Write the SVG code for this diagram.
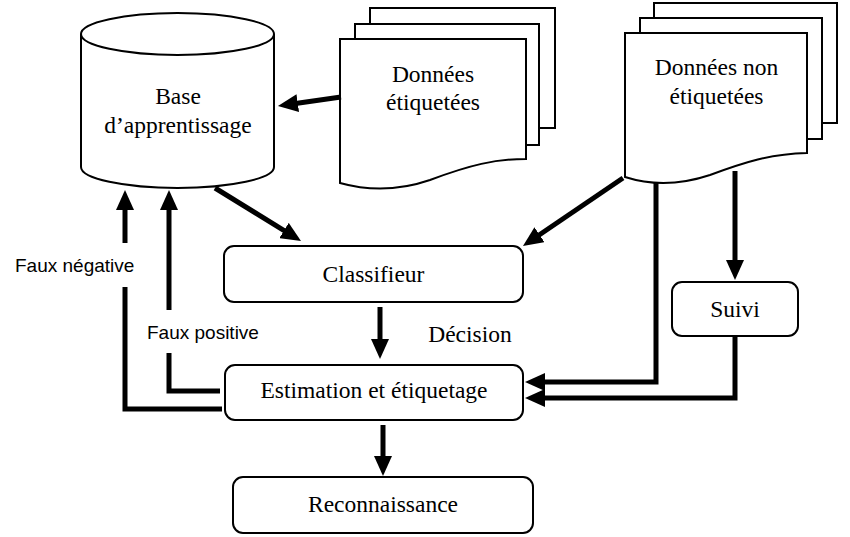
<svg xmlns="http://www.w3.org/2000/svg" width="850" height="537" viewBox="0 0 850 537">
<style>
.shape{fill:#fff;stroke:#000;stroke-width:2}
.serif{font-family:"Liberation Serif","Times New Roman",serif;font-size:23.5px;fill:#000;text-anchor:middle}
.sans{font-family:"Liberation Sans",Arial,sans-serif;font-size:19px;fill:#000}
.conn{fill:none;stroke:#000;stroke-width:5}
</style>
<defs>
<marker id="ah" markerUnits="userSpaceOnUse" markerWidth="20" markerHeight="18" refX="4" refY="9" orient="auto">
<path d="M0,0 L20,9 L0,18 z" fill="#000"/>
</marker>
</defs>
<rect width="850" height="537" fill="#fff"/>

<g id="base">
<path class="shape" d="M81,34 V167 A96.5,21 0 0 0 274,167 V34"/>
<ellipse class="shape" cx="177.5" cy="34" rx="96.5" ry="21"/>
<text class="serif" x="178" y="104">Base</text>
<text class="serif" x="178" y="133">d’apprentissage</text>
</g>

<g id="donnees-etiquetees">
<rect class="shape" x="370" y="8" width="185" height="120"/>
<rect class="shape" x="355" y="24" width="184" height="121"/>
<path class="shape" d="M340,39 H526 V159 C495,159 470,165 430,180 C395,192 365,190 340,183 Z"/>
<text class="serif" x="433" y="82">Données</text>
<text class="serif" x="433" y="110">étiquetées</text>
</g>

<g id="donnees-non-etiquetees">
<rect class="shape" x="654" y="3" width="183" height="120"/>
<rect class="shape" x="640" y="18" width="182" height="121"/>
<path class="shape" d="M625,33 H807 V153 C770,154 745,162 710,175 C680,185 650,185 625,177 Z"/>
<text class="serif" x="716.5" y="75">Données non</text>
<text class="serif" x="716.5" y="104">étiquetées</text>
</g>

<g id="classifieur">
<rect class="shape" x="224" y="246" width="299" height="56" rx="10"/>
<text class="serif" x="373.5" y="282">Classifieur</text>
</g>

<g id="suivi">
<rect class="shape" x="672" y="282" width="126" height="54" rx="10"/>
<text class="serif" x="735" y="317">Suivi</text>
</g>

<g id="estimation">
<rect class="shape" x="225" y="365" width="298" height="55" rx="10"/>
<text class="serif" x="374" y="398">Estimation et étiquetage</text>
</g>

<g id="reconnaissance">
<rect class="shape" x="233" y="477" width="300" height="56" rx="10"/>
<text class="serif" x="383" y="512">Reconnaissance</text>
</g>

<g id="connectors">
<path class="conn" d="M341,97 L293.8,103.7" marker-end="url(#ah)"/>
<path class="conn" d="M215,188 L287.4,232.6" marker-end="url(#ah)"/>
<path class="conn" d="M623,178 L536.2,237" marker-end="url(#ah)"/>
<path class="conn" d="M380,307 V343" marker-end="url(#ah)"/>
<path class="conn" d="M383,425 V460" marker-end="url(#ah)"/>
<path class="conn" d="M735,171 V264" marker-end="url(#ah)"/>
<path class="conn" d="M656,183 V382 H541" marker-end="url(#ah)"/>
<path class="conn" d="M735,336 V398 H541" marker-end="url(#ah)"/>
<path class="conn" d="M222,409 H125 V287"/>
<path class="conn" d="M125,243 V206" marker-end="url(#ah)"/>
<path class="conn" d="M220,391 H169 V353"/>
<path class="conn" d="M169,310 V206" marker-end="url(#ah)"/>
<text class="sans" x="15" y="272">Faux négative</text>
<text class="sans" x="147" y="339">Faux positive</text>
<text class="serif" x="470" y="342">Décision</text>
</g>
</svg>
